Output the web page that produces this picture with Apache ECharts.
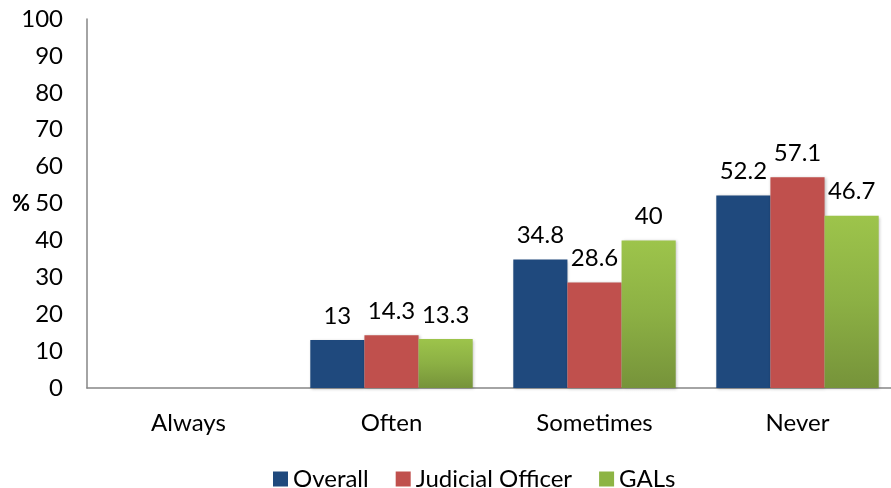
<!DOCTYPE html>
<html>
<head>
<meta charset="utf-8">
<script src="https://cdn.jsdelivr.net/npm/echarts@6/dist/echarts.min.js"></script>
<style>
  html, body { margin: 0; padding: 0; background: #fff; }
  #chart { width: 891px; height: 488px; }
</style>
</head>
<body>
<div id="chart"></div>
<script>
var categories = ['Always', 'Often', 'Sometimes', 'Never'];
var overall = [null, 13, 34.8, 52.2];
var judicial = [null, 14.3, 28.6, 57.1];
var gals = [null, 13.3, 40, 46.7];
var yTicks = { min: 0, max: 100, step: 10 };

var FONT = 'Lato, "Open Sans", sans-serif';
var FS = 24;
var chart = echarts.init(document.getElementById('chart'));

var green = new echarts.graphic.LinearGradient(0, 0, 0, 1, [
  { offset: 0, color: '#9DC44B' },
  { offset: 0.5, color: '#8CB044' },
  { offset: 1, color: '#76933A' }
]);

function bar(name, data, color) {
  return {
    name: name,
    type: 'bar',
    data: data,
    barGap: '0%',
    barCategoryGap: '20%',
    itemStyle: { color: color, shadowColor: 'rgba(0,0,0,0.25)', shadowBlur: 3, shadowOffsetX: 1, shadowOffsetY: 1 },
    label: {
      show: true,
      position: 'top',
      distance: 12,
      color: '#000',
      fontFamily: FONT,
      fontSize: FS
    }
  };
}

var option = {
  animation: false,
  backgroundColor: '#fff',
  grid: { left: 87, width: 812, top: 19, height: 369, containLabel: false, outerBoundsMode: 'none' },
  legend: {
    top: 462,
    left: 268,
    icon: 'rect',
    itemWidth: 15,
    itemHeight: 15,
    itemGap: 27,
    textStyle: { fontFamily: FONT, fontSize: FS, color: '#000' },
    data: [
      { name: 'Overall', itemStyle: { color: '#1F497D' } },
      { name: 'Judicial Officer', itemStyle: { color: '#C0504D' } },
      { name: 'GALs', itemStyle: { color: '#8DB444' } }
    ]
  },
  xAxis: {
    type: 'category',
    data: categories,
    axisLine: { lineStyle: { color: '#868686', width: 1.5 } },
    axisTick: { show: false },
    axisLabel: { color: '#000', fontFamily: FONT, fontSize: FS, margin: 23 }
  },
  yAxis: {
    type: 'value',
    min: yTicks.min,
    max: yTicks.max,
    interval: yTicks.step,
    name: '%',
    nameLocation: 'middle',
    nameRotate: 0,
    nameGap: 57,
    nameMoveOverlap: false,
    nameTextStyle: { color: '#000', fontFamily: FONT, fontSize: 22, fontWeight: 'bold' },
    axisLine: { show: true, lineStyle: { color: '#868686', width: 1.5 } },
    axisTick: { show: false },
    splitLine: { show: false },
    axisLabel: { color: '#000', fontFamily: FONT, fontSize: FS, margin: 24 }
  },
  series: [
    bar('Overall', overall, '#1F497D'),
    bar('Judicial Officer', judicial, '#C0504D'),
    bar('GALs', gals, green)
  ]
};

chart.setOption(option);
</script>
</body>
</html>
